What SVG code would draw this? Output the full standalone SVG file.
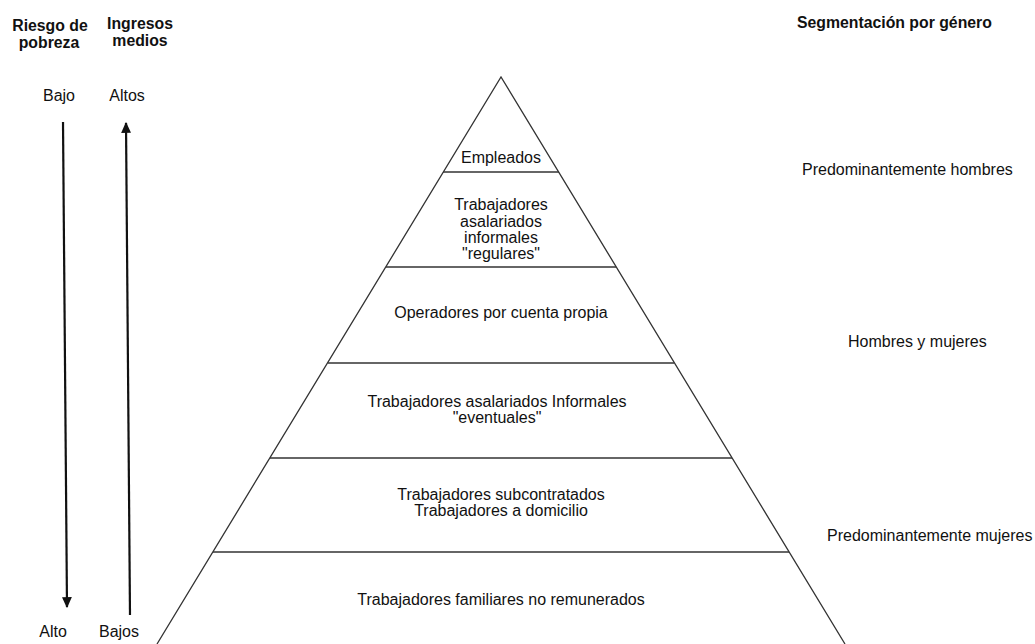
<svg xmlns="http://www.w3.org/2000/svg" width="1035" height="644" viewBox="0 0 1035 644">
<defs>
<style>
text{font-family:"Liberation Sans",Arial,sans-serif;font-size:16px;fill:#111}
.b{font-weight:bold;font-size:15.8px}
.c{text-anchor:middle}
.ln{stroke:#333;stroke-width:1.3;fill:none}
.ar{stroke:#111;stroke-width:2.2;fill:none}
</style>
<marker id="ah" viewBox="0 0 10 10" refX="9" refY="5" markerWidth="5" markerHeight="4.5" orient="auto" markerUnits="strokeWidth" preserveAspectRatio="none">
<path d="M0,0 L10,5 L0,10 Z" fill="#111"/>
</marker>
</defs>
<rect width="1035" height="644" fill="#fff"/>
<g id="headers">
<text class="b c" x="50" y="31">Riesgo de</text>
<text class="b c" x="49" y="48">pobreza</text>
<text class="b c" x="140" y="29">Ingresos</text>
<text class="b c" x="140" y="46">medios</text>
<text class="b" x="797" y="28">Segmentación por género</text>
</g>
<g id="scale-labels">
<text class="c" x="59" y="101">Bajo</text>
<text class="c" x="127" y="101">Altos</text>
<text class="c" x="53" y="637">Alto</text>
<text class="c" x="119" y="637">Bajos</text>
</g>
<g id="connectors">
<line class="ar" x1="63" y1="122" x2="67" y2="607" marker-end="url(#ah)"/>
<line class="ar" x1="130" y1="615" x2="126" y2="123" marker-end="url(#ah)"/>
</g>
<g id="pyramid">
<polyline class="ln" points="157,644 501,77 845,644"/>
<line class="ln" x1="443" y1="172" x2="559" y2="172"/>
<line class="ln" x1="386" y1="267" x2="616" y2="267"/>
<line class="ln" x1="328" y1="363" x2="674" y2="363"/>
<line class="ln" x1="270" y1="458" x2="732" y2="458"/>
<line class="ln" x1="213" y1="552" x2="789" y2="552"/>
</g>
<g id="n-empleados"><text class="c" x="501" y="163">Empleados</text></g>
<g id="n-regulares">
<text class="c" x="501" y="210">Trabajadores</text>
<text class="c" x="501" y="227">asalariados</text>
<text class="c" x="501" y="243">informales</text>
<text class="c" x="501" y="259">"regulares"</text>
</g>
<g id="n-operadores"><text class="c" x="501" y="318">Operadores por cuenta propia</text></g>
<g id="n-eventuales">
<text class="c" x="497" y="407">Trabajadores asalariados Informales</text>
<text class="c" x="497" y="423">"eventuales"</text>
</g>
<g id="n-subcontratados">
<text class="c" x="501" y="500">Trabajadores subcontratados</text>
<text class="c" x="501" y="516">Trabajadores a domicilio</text>
</g>
<g id="n-familiares"><text class="c" x="501" y="605">Trabajadores familiares no remunerados</text></g>
<g id="gender">
<text x="802" y="175">Predominantemente hombres</text>
<text x="848" y="347">Hombres y mujeres</text>
<text x="827" y="541">Predominantemente mujeres</text>
</g>
</svg>
